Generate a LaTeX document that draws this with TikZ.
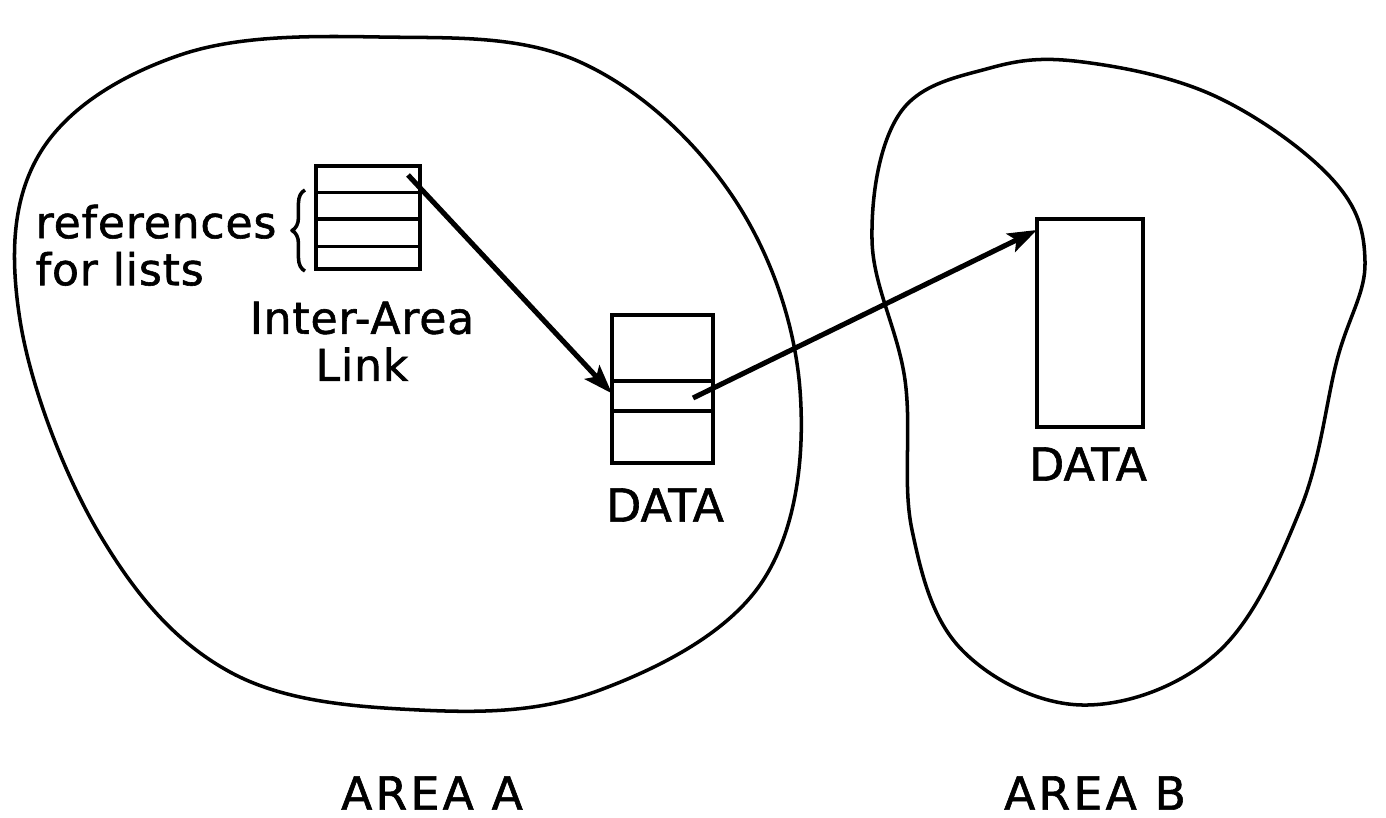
\documentclass[tikz,border=0pt]{standalone}
\usepackage{fontspec}
\setmainfont{DejaVu Sans}
\newfontfamily\lettering{DejaVu Sans}[FakeBold=1.3]
\usetikzlibrary{arrows.meta,calc,decorations.pathreplacing}

\begin{document}
\begin{tikzpicture}[x=0.01cm,y=-0.01cm,
  outline/.style={line width=1pt, line join=round},
  cell/.style={draw, line width=0.95pt, minimum width=#1, inner sep=0pt, outer sep=0pt},
  cellline/.style={line width=0.95pt},
  link/.style={line width=1.45pt, -{Stealth[length=0.29cm, width=0.2cm, inset=0.06cm]}},
  lbl/.style={inner sep=0pt, font=\lettering\fontsize{12.5}{13.4}\selectfont\addfontfeature{LetterSpace=2}},
  datalbl/.style={inner sep=0pt, font=\lettering\fontsize{13}{15}\selectfont},
  arealbl/.style={inner sep=0pt, font=\lettering\fontsize{13}{15}\selectfont\addfontfeature{LetterSpace=7}}
]
\fill[white] (0,0) rectangle (1386,817);
\useasboundingbox (0,0) rectangle (1386,817);

% Area A outline
\draw[outline] plot[smooth cycle, tension=0.62] coordinates {
  (380,37) (580,62) (733,197) (800,390) (762,582) (600,690) (420,710)
  (230,672) (100,535) (20,320) (40,153) (180,55)};

% Area B outline
\draw[outline] plot[smooth cycle, tension=0.62] coordinates {
  (1083,62) (1217,97) (1333,180) (1365,262) (1337,360) (1300,510)
  (1217,653) (1083,705) (962,650) (912,530) (905,380) (872,240)
  (900,113) (990,68)};

% Inter-area link record (four cells)
\node[cell=1.04cm, minimum height=1.03cm] (lk) at (368,217.5) {};
\foreach \f in {0.26,0.515,0.78}
  \draw[cellline] ($(lk.north west)!\f!(lk.south west)$) -- ($(lk.north east)!\f!(lk.south east)$);

% Data record in area A (three cells)
\node[cell=1.01cm, minimum height=1.48cm] (dA) at (662.5,389) {};
\foreach \f in {0.446,0.649}
  \draw[cellline] ($(dA.north west)!\f!(dA.south west)$) -- ($(dA.north east)!\f!(dA.south east)$);

% Data record in area B
\node[cell=1.06cm, minimum height=2.08cm] (dB) at (1090,323) {};

% Brace grouping the reference cells
\draw[outline, decorate, decoration={brace, amplitude=0.13cm}]
  ($(lk.south west)+(-11,2)$) -- ($(lk.north west)+(-11,24)$);

% Pointers
\coordinate (a1s) at ($(lk.north east)+(-12,9)$);
\coordinate (a1e) at ($(dA.north west)!0.53!(dA.south west)$);
\draw[link] (a1s) -- (a1e);
\coordinate (a2s) at ($(dA.north east)+(-20,83)$);
\coordinate (a2e) at ($(dB.north west)+(0,11)$);
\draw[link] (a2s) -- (a2e);

% Labels
\node[lbl, anchor=north west, align=left] (refs) at (35,204) {references\\for lists};
\node[lbl, anchor=north, align=center] (ial) at (362,301) {Inter-Area\\Link};
\node[datalbl] (dAl) at (665,505) {DATA};
\node[datalbl] (dBl) at (1088,464) {DATA};
\node[arealbl] (arA) at (432,793) {AREA A};
\node[arealbl] (arB) at (1095,793) {AREA B};
\end{tikzpicture}
\end{document}
